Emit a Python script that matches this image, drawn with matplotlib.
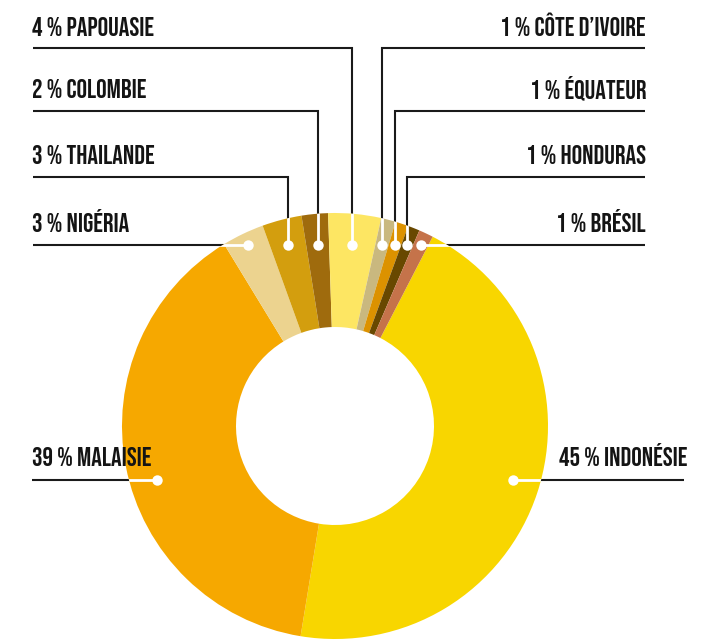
import numpy as np
import matplotlib
matplotlib.use("Agg")
import matplotlib.pyplot as plt
from matplotlib import font_manager as fm
from matplotlib.patches import Wedge

# ---- data ----
countries = ["INDONÉSIE", "MALAISIE", "NIGÉRIA", "THAILANDE", "COLOMBIE",
             "PAPOUASIE", "CÔTE D’IVOIRE", "ÉQUATEUR", "HONDURAS", "BRÉSIL"]
shares = [45.0, 38.7, 3.2, 3.0, 2.0, 4.0, 1.1, 1.0, 0.9, 1.1]
colors = ["#F8D600", "#F6A800", "#ECD38F", "#D39E0E", "#9F6B0D",
          "#FDE663", "#C9B87F", "#DC9200", "#684800", "#C5734A"]

W, H = 715, 640
names = {f.name for f in fm.fontManager.ttflist}
prefs = ["Bebas Neue", "Sofia Sans Extra Condensed", "Barlow Condensed", "DejaVu Sans"]
font = next(p for p in prefs if p in names)

fig = plt.figure(figsize=(W / 100, H / 100), dpi=100)
ax = fig.add_axes([0, 0, 1, 1])

def Y(y):
    return H - y

cx, cy = 335, Y(426)
R, w = 213, 114
wedges, _ = ax.pie(shares, colors=colors, startangle=62.7, counterclock=False,
                   radius=R, center=(cx, cy),
                   wedgeprops=dict(width=w, linewidth=0, zorder=2))
ax.set_xlim(0, W)
ax.set_ylim(0, H)
ax.set_aspect("equal")
ax.axis("off")

ring = Wedge((cx, cy), R, 0, 360, width=w, transform=ax.transData)

mids = [np.deg2rad((wd.theta1 + wd.theta2) / 2) for wd in wedges]

top_dot_y = Y(245)
rows = [Y(48), Y(111), Y(177), Y(245)]
side = {2: ("L", 3), 3: ("L", 2), 4: ("L", 1), 5: ("L", 0),
        6: ("R", 0), 7: ("R", 1), 8: ("R", 2), 9: ("R", 3)}

fs = 19
tc = "#141414"
fam = [font, "DejaVu Sans"]

def draw(path_x, path_y, dx, dy):
    ax.plot(path_x, path_y, color="#1a1a1a", lw=1.5, zorder=1,
            solid_capstyle="butt", solid_joinstyle="miter")
    ln, = ax.plot(path_x, path_y, color="white", lw=2, zorder=3,
                  solid_capstyle="butt")
    ln.set_clip_path(ring)
    ax.plot([dx], [dy], "o", color="white", ms=7.5, mec="none", zorder=4)

for i, (s, r) in side.items():
    m = mids[i]
    dx = cx + (top_dot_y - cy) / np.tan(m)
    dy = top_dot_y
    ry = rows[r]
    label = f"{round(shares[i])} % {countries[i]}"
    if s == "L":
        xs, ys = [33, dx, dx], [ry, ry, dy]
        ax.text(32, ry + 12.5, label, ha="left", va="baseline",
                fontsize=fs, family=fam, color=tc)
    else:
        xs, ys = [645, dx, dx], [ry, ry, dy]
        ax.text(646, ry + 12.5, label, ha="right", va="baseline",
                fontsize=fs, family=fam, color=tc)
    draw(xs, ys, dx, dy)

# big slices
big_y = Y(480)
for i, (s, xe, xt) in {1: ("L", 32, 32), 0: ("R", 684, 687)}.items():
    m = mids[i]
    dx = cx + np.sign(np.cos(m)) * np.sqrt(186 ** 2 - (big_y - cy) ** 2)
    label = f"{round(shares[i])} % {countries[i]}"
    ax.text(xt, big_y + 14.5, label, ha="left" if s == "L" else "right",
            va="baseline", fontsize=fs, family=fam, color=tc, zorder=5)
    draw([xe, dx], [big_y, big_y], dx, big_y)

fig.savefig("out.png", dpi=100)
